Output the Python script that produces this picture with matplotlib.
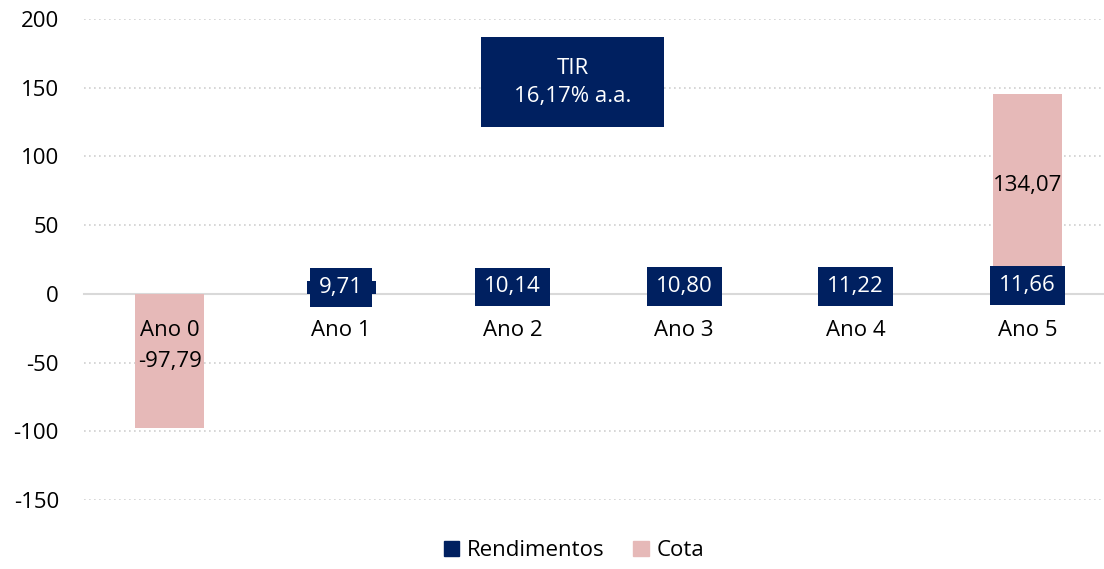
import matplotlib
matplotlib.use("Agg")
import matplotlib.pyplot as plt
from matplotlib.patches import Patch, Rectangle

# Dados do gráfico
anos = ["Ano 0", "Ano 1", "Ano 2", "Ano 3", "Ano 4", "Ano 5"]
rendimentos = [0, 9.71, 10.14, 10.80, 11.22, 11.66]
cota = [-97.79, 0, 0, 0, 0, 134.07]
tir_texto = "TIR\n16,17% a.a."
yticks = [-150, -100, -50, 0, 50, 100, 150, 200]

azul = "#002060"
rosa = "#e6b9b8"
fs = 16

plt.rcParams["font.family"] = ["Open Sans", "DejaVu Sans"]


def fmt(v):
    return f"{v:.2f}".replace(".", ",")


fig = plt.figure(figsize=(11.04, 5.69), dpi=100)
ax = fig.add_axes([84 / 1104, 69 / 569, 1029 / 1104, 481 / 569])

x = list(range(len(anos)))
largura = 0.4

b_rend = ax.bar(x, rendimentos, largura, color=azul, zorder=1)
b_cota = ax.bar(x, cota, largura, bottom=rendimentos, color=rosa, zorder=1)

# Rótulos
ax.bar_label(b_rend, labels=[fmt(v) if v else "" for v in rendimentos],
             label_type="center", color="white", fontsize=fs, zorder=4,
             bbox=dict(boxstyle="square,pad=0.4", fc=azul, ec="none"))
ax.bar_label(b_cota, labels=[fmt(v) if v else "" for v in cota],
             label_type="center", color="black", fontsize=fs, zorder=4)

# Caixa da TIR
ax.add_patch(Rectangle((1.815, 121.5), 1.067, 65.4, fc=azul, ec="none", zorder=5))
ax.text(2.35, 154, tir_texto, ha="center", va="center", color="white",
        fontsize=fs, linespacing=1.45, zorder=6)

ax.set_xlim(-0.5, 5.5)
ax.set_ylim(-150, 200)
ax.set_yticks(yticks)
ax.set_yticklabels([str(t) for t in yticks])
ax.set_xticks(x)
ax.set_xticklabels(anos)

ax.set_axisbelow(True)
ax.yaxis.grid(True, linestyle=(0, (1, 2)), color="#d0d0d0", linewidth=1.2)
ax.xaxis.set_zorder(3)

for s in ["top", "right", "left"]:
    ax.spines[s].set_visible(False)
ax.spines["bottom"].set_position(("data", 0))
ax.spines["bottom"].set_color("#d9d9d9")
ax.spines["bottom"].set_linewidth(1.5)
ax.spines["bottom"].set_zorder(0.6)

ax.tick_params(axis="x", length=0, pad=19, labelsize=fs, labelcolor="black")
ax.tick_params(axis="y", length=0, pad=18, labelsize=fs, labelcolor="black")

handles = [Patch(color=azul, label="Rendimentos"), Patch(color=rosa, label="Cota")]
fig.legend(handles=handles, loc="center", bbox_to_anchor=(0.52, 0.032), ncol=2,
           frameon=False, fontsize=fs, handlelength=0.7, handleheight=0.7,
           handletextpad=0.35, columnspacing=1.3)

fig.savefig("out.png", dpi=100)
